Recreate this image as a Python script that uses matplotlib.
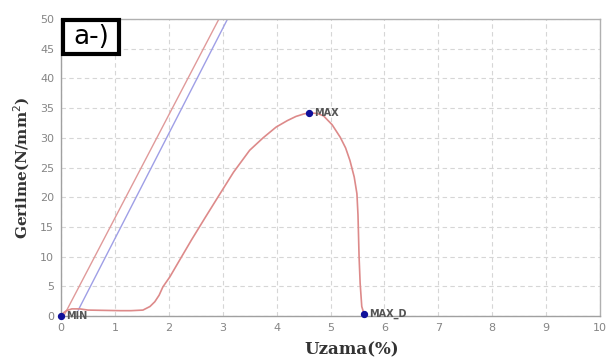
import matplotlib
matplotlib.use("Agg")
import matplotlib.pyplot as plt
from matplotlib.patches import Rectangle

# ---- data ----
strain = [0, 0.04, 0.1, 0.2, 0.35, 0.5, 0.8, 1.1, 1.3, 1.52, 1.65, 1.74, 1.82, 1.89,
          2.02, 2.2, 2.42, 2.67, 2.91, 3.2, 3.5, 3.75, 3.99, 4.2, 4.36, 4.5, 4.61,
          4.75, 4.87, 5.03, 5.18, 5.28, 5.36, 5.44, 5.49, 5.51, 5.52, 5.53, 5.55,
          5.58, 5.62]
stress = [0, 0.5, 0.9, 1.2, 1.2, 1.0, 0.95, 0.9, 0.9, 1.0, 1.6, 2.4, 3.5, 4.9,
          6.6, 9.4, 12.8, 16.5, 20.0, 24.2, 27.9, 30.0, 31.8, 32.9, 33.6, 34.0, 34.2,
          34.1, 33.7, 32.2, 30.1, 28.3, 26.2, 23.4, 20.6, 17.0, 13.5, 10.0, 5.5,
          1.6, 0.4]

red_line_x = [0.05, 2.93]
red_line_y = [0, 50]
blue_line_x = [0.32, 3.09]
blue_line_y = [1.0, 50]

point_names = ["MIN", "MAX", "MAX_D"]
point_x = [0.0, 4.61, 5.62]
point_y = [0.0, 34.2, 0.4]

xticks = list(range(0, 11))
yticks = list(range(0, 51, 5))

# ---- figure ----
fig = plt.figure(figsize=(6.09, 3.57), dpi=100)
ax = fig.add_axes([0.1002, 0.1148, 0.8850, 0.8320])

ax.plot(red_line_x, red_line_y, color="#e09a9a", lw=1.0, zorder=2)
ax.plot(blue_line_x, blue_line_y, color="#9f9fe6", lw=1.0, zorder=2)
ax.plot(strain, stress, color="#dd8a8a", lw=1.2, zorder=3)
ax.scatter(point_x, point_y, s=18, color="#10109a", zorder=5, clip_on=False)
for n, x, y in zip(point_names, point_x, point_y):
    ax.text(x + 0.09, y, n, fontsize=7, color="#555555", va="center", ha="left",
            fontweight="bold", zorder=6)

ax.set_xlim(0, 10)
ax.set_ylim(0, 50)
ax.set_xticks(xticks)
ax.set_yticks(yticks)
ax.tick_params(axis="both", length=0, labelsize=8, labelcolor="#858585", pad=5)
ax.grid(True, color="#d6d6d6", linestyle=(0, (4, 3)), lw=0.8)
for s in ax.spines.values():
    s.set_color("#b0b0b0")
    s.set_linewidth(1.0)
ax.spines["left"].set_color("#a0a0a0")
ax.spines["bottom"].set_color("#a0a0a0")

ax.set_xlabel("Uzama(%)", family="DejaVu Serif", fontweight="bold", fontsize=12,
              color="#333333", labelpad=2)
ax.xaxis.set_label_coords(0.54, -0.085)
ax.set_ylabel("Gerilme(N/mm$^2$)", family="DejaVu Serif", fontweight="bold",
              fontsize=11, color="#333333", labelpad=6)

box = Rectangle((0.004, 0.882), 0.104, 0.116, transform=ax.transAxes,
                fc="white", ec="black", lw=3, zorder=10, clip_on=False)
ax.add_patch(box)
ax.text(0.056, 0.938, "a-)", transform=ax.transAxes, fontsize=19, color="black",
        va="center", ha="center", family="DejaVu Sans", zorder=11)

fig.savefig("out.png", dpi=100)
